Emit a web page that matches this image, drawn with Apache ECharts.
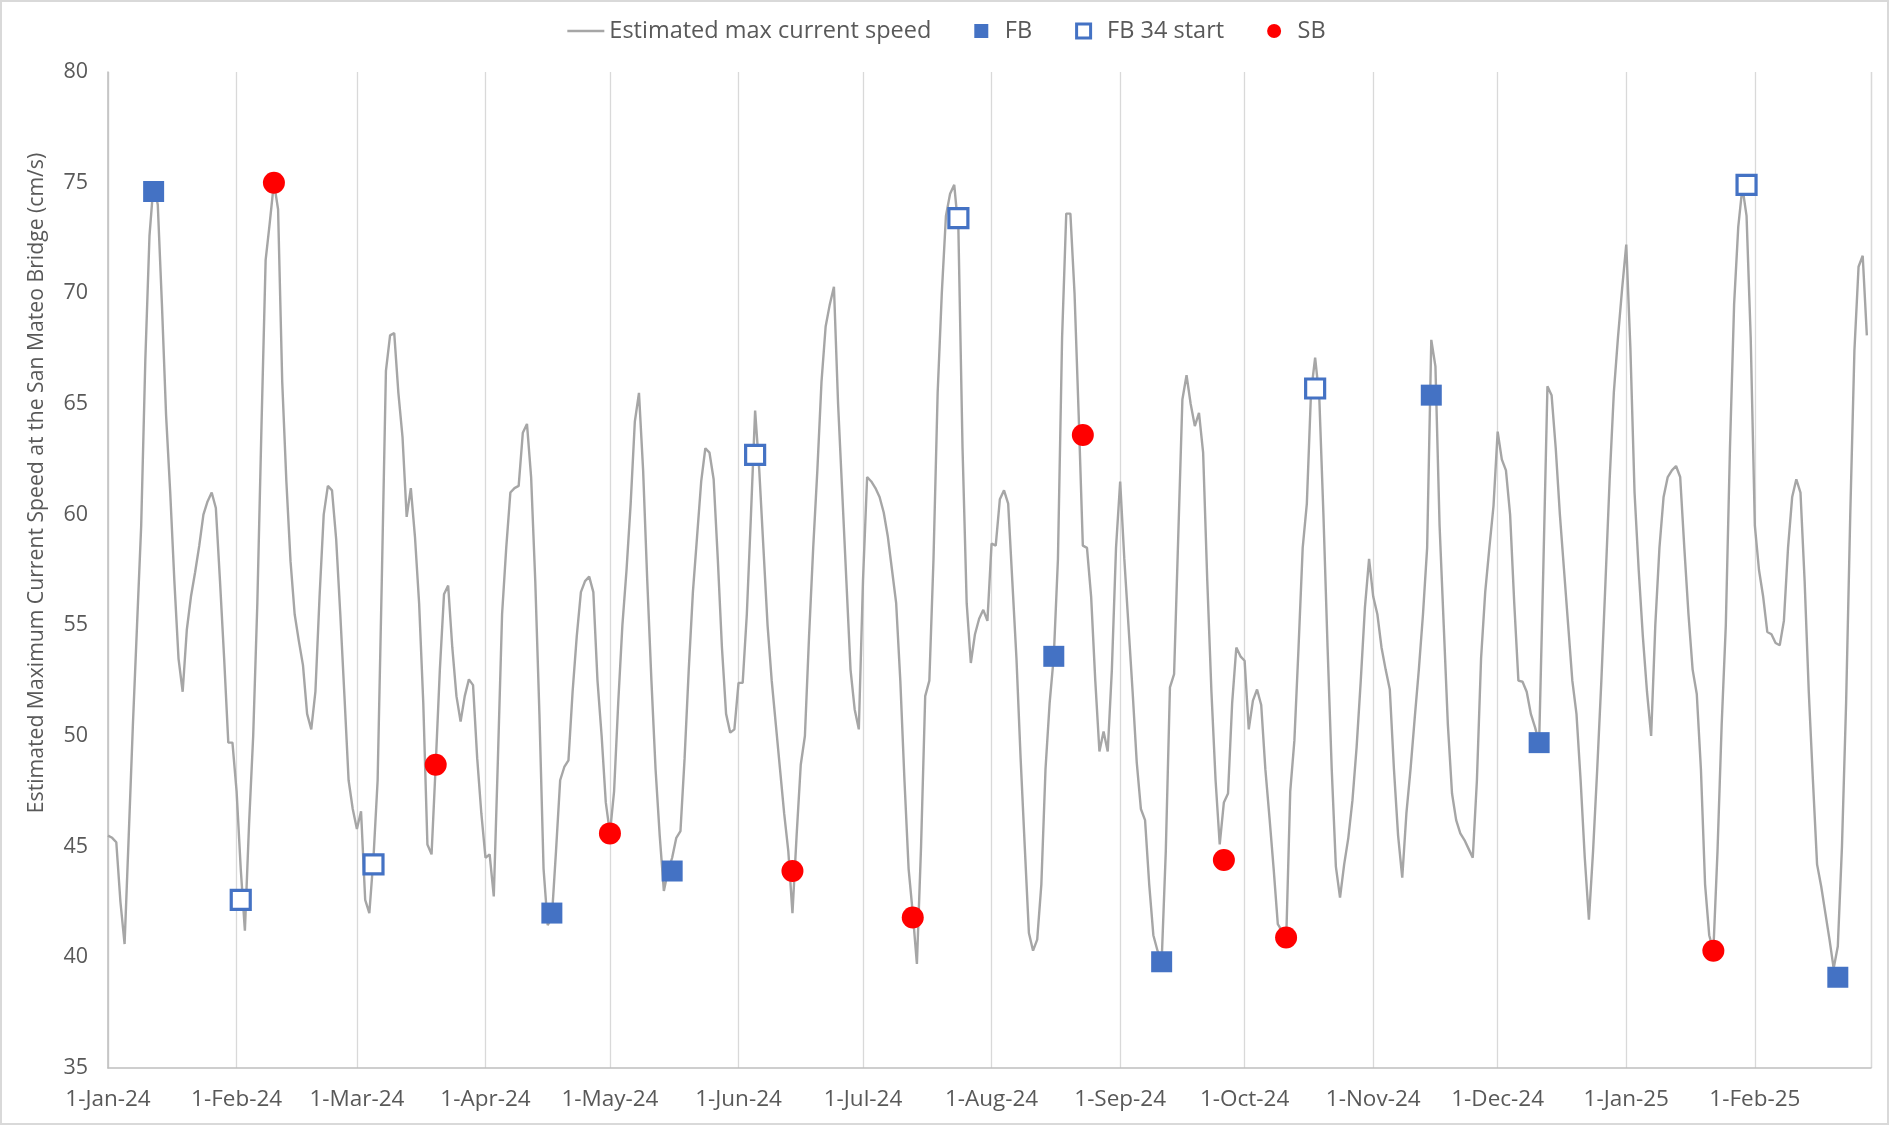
<!DOCTYPE html>
<html>
<head>
<meta charset="utf-8">
<script src="https://cdn.jsdelivr.net/npm/echarts@6/dist/echarts.min.js"></script>
<style>
html,body{margin:0;padding:0;background:#fff;}
#chart{width:1893px;height:1126px;}
</style>
</head>
<body>
<div id="chart"></div>
<script>
// ---- Data (daily estimated max current speed, cm/s) ----
var startDate = [2024, 0, 1];
var jan24 = [45.5,45.4,45.2,42.5,40.6,45.5,50.5,55.0,59.5,67.0,72.6,75.0,74.0,69.5,64.5,61.0,57.0,53.5,52.0,54.8,56.3,57.4,58.6,60.0,60.6,61.0,60.3,57.0,53.5,49.7,49.7];
var feb24 = [47.5,44.0,41.2,46.0,50.0,56.0,64.0,71.5,73.2,75.0,73.8,66.0,61.5,57.9,55.5,54.3,53.2,51.0,50.3,52.0,56.3,60.0,61.3,61.1,58.9,55.5,51.8,48.0,46.7];
var mar24 = [45.8,46.6,42.6,42.0,44.5,48.0,57.0,66.5,68.1,68.2,65.5,63.5,59.9,61.2,59.0,56.0,51.5,45.1,44.65,48.7,53.0,56.4,56.8,54.0,51.8,50.65,51.8,52.56,52.3,49.0,46.5];
var apr24 = [44.5,44.65,42.75,49.0,55.5,58.5,61.0,61.2,61.3,63.7,64.1,61.7,57.0,51.0,44.0,41.45,41.8,44.8,48.0,48.6,48.9,52.0,54.5,56.5,57.0,57.2,56.5,52.5,50.0,47.0];
var may24 = [45.6,47.5,51.5,55.0,57.5,60.5,64.2,65.5,62.0,57.0,52.5,48.5,45.5,43.0,43.9,44.5,45.4,45.7,49.0,53.0,56.5,59.0,61.5,63.0,62.8,61.6,58.0,54.0,51.0,50.15,50.3];
var jun24 = [52.4,52.4,55.5,60.0,64.7,62.0,58.5,55.0,52.5,50.5,48.5,46.5,44.8,42.0,45.5,48.7,50.0,54.5,58.5,62.0,66.0,68.5,69.5,70.3,65.0,61.0,57.0,53.0,51.2,50.3];
var jul24 = [57.0,61.7,61.5,61.2,60.8,60.1,59.0,57.5,56.0,52.5,48.0,44.0,42.0,39.7,45.0,51.8,52.5,58.0,65.5,70.0,73.5,74.5,74.9,72.9,63.0,56.0,53.3,54.6,55.3,55.7,55.2];
var aug24 = [58.7,58.6,60.7,61.1,60.5,57.0,53.5,49.0,45.0,41.1,40.3,40.8,43.3,48.5,51.5,53.6,58.0,68.0,73.6,73.6,70.0,64.5,58.6,58.5,56.3,52.5,49.3,50.2,49.3,53.0,58.5];
var sep24 = [61.5,58.0,55.0,52.0,48.8,46.7,46.2,43.3,41.0,40.3,39.8,44.8,52.2,52.8,59.0,65.2,66.3,65.0,64.0,64.6,62.8,57.0,52.0,48.0,45.1,47.0,47.4,51.5,54.0,53.6];
var oct24 = [53.4,50.3,51.6,52.1,51.4,48.5,46.3,44.0,41.5,41.2,40.6,47.5,49.8,54.0,58.5,60.5,65.5,67.1,65.3,60.0,54.0,48.5,44.1,42.7,44.2,45.4,47.1,49.5,52.5,55.8,58.0];
var nov24 = [56.3,55.5,54.0,53.0,52.1,48.5,45.5,43.6,46.5,48.5,50.8,53.0,55.5,58.5,67.9,66.7,59.5,55.0,50.5,47.4,46.2,45.6,45.3,44.9,44.5,48.0,53.5,56.5,58.5,60.4];
var dec24 = [63.75,62.5,62.0,60.0,56.0,52.5,52.45,52.0,51.0,50.4,49.7,57.5,65.8,65.4,63.0,60.0,57.5,55.0,52.5,51.0,48.0,44.5,41.7,44.8,48.5,52.5,57.0,61.6,65.5,68.0,70.2];
var jan25 = [72.2,67.5,61.0,57.5,54.5,52.0,50.0,55.0,58.5,60.8,61.7,62.0,62.2,61.7,58.5,55.5,53.0,51.9,48.5,43.3,41.0,40.3,44.8,50.5,55.0,63.0,69.5,73.0,74.8,73.5,68.0];
var feb25 = [59.5,57.5,56.3,54.7,54.6,54.2,54.1,55.2,58.5,60.8,61.6,61.0,57.0,52.0,48.0,44.2,43.2,42.0,40.8,39.5,40.5,45.0,51.5,60.0,67.4,71.2,71.7,68.1];

var fbPoints = [['2024-01-12',74.6],['2024-04-17',42.0],['2024-05-16',43.9],['2024-08-16',53.6],['2024-09-11',39.8],['2024-11-15',65.4],['2024-12-11',49.7],['2025-02-21',39.1]];
var fb34Points = [['2024-02-02',42.6],['2024-03-05',44.2],['2024-06-05',62.7],['2024-07-24',73.4],['2024-10-18',65.7],['2025-01-30',74.9]];
var sbPoints = [['2024-02-10',75.0],['2024-03-20',48.7],['2024-05-01',45.6],['2024-06-14',43.9],['2024-07-13',41.8],['2024-08-23',63.6],['2024-09-26',44.4],['2024-10-11',40.9],['2025-01-22',40.3]];

var axisStart = '2024-01-01', axisEnd = '2025-03-01', lastLabel = '2025-02-01';
var monthNames = ['Jan','Feb','Mar','Apr','May','Jun','Jul','Aug','Sep','Oct','Nov','Dec'];
var yTicks = {min: 35, max: 80, step: 5};

// ---- Build ----
function ts(s){ var p = s.split('-'); return new Date(+p[0], +p[1]-1, +p[2]).getTime(); }
var daily = [].concat(jan24,feb24,mar24,apr24,may24,jun24,jul24,aug24,sep24,oct24,nov24,dec24,jan25,feb25);
var lineData = daily.map(function(v,i){ return [new Date(startDate[0], startDate[1], startDate[2]+i).getTime(), v]; });
function toPts(arr){ return arr.map(function(p){ return [ts(p[0]), p[1]]; }); }

var FONT = '"Open Sans", "Noto Sans", sans-serif';
var TXT = '#595959';
var chart = echarts.init(document.getElementById('chart'), null, {renderer:'canvas'});
var option = {
  backgroundColor: '#ffffff',
  animation: false,
  textStyle: {fontFamily: FONT},
  legend: {
    top: 14, left: 'center',
    itemWidth: 37, itemHeight: 14, itemGap: 43,
    textStyle: {fontFamily: FONT, fontSize: 23.5, color: TXT},
    data: [
      {name: 'Estimated max current speed', icon: 'path://M0,0h37v2.4h-37z', itemStyle: {color: '#a6a6a6'}},
      {name: 'FB', icon: 'path://M0,0h10v10h-10z'},
      {name: 'FB 34 start', icon: 'path://M0,0h10v10h-10z', itemStyle: {color: '#ffffff', borderColor: '#4472C4', borderWidth: 3}},
      {name: 'SB', icon: 'circle'}
    ]
  },
  grid: {left: 108, right: 22, top: 72, bottom: 58, containLabel: false},
  xAxis: {
    type: 'time',
    min: ts(axisStart), max: ts(axisEnd),
    splitNumber: 14,
    minInterval: 27*864e5, maxInterval: 32*864e5,
    axisLine: {show: true, lineStyle: {color: '#bfbfbf', width: 1.5}},
    axisTick: {show: false},
    splitLine: {show: true, lineStyle: {color: '#d9d9d9', width: 1.3}},
    axisLabel: {
      margin: 20,
      fontFamily: FONT, fontSize: 22.5, color: TXT,
      hideOverlap: false,
      showMinLabel: true, showMaxLabel: true,
      formatter: function(val){
        if (val > ts(lastLabel)) return '';
        var d = new Date(val);
        return d.getDate() + '-' + monthNames[d.getMonth()] + '-' + String(d.getFullYear()).slice(2);
      }
    }
  },
  yAxis: {
    type: 'value', min: yTicks.min, max: yTicks.max, interval: yTicks.step,
    axisLine: {show: true, lineStyle: {color: '#bfbfbf', width: 1.5}},
    axisTick: {show: false},
    splitLine: {show: false},
    axisLabel: {margin: 20, fontFamily: FONT, fontSize: 21.5, color: TXT}
  },
  graphic: [
    {type: 'rect', silent: true, z: -1, shape: {x: 1, y: 1, width: 1887, height: 1123},
     style: {fill: null, stroke: '#d9d9d9', lineWidth: 2}},
    {type: 'text', silent: true, x: 37, y: 483, rotation: Math.PI/2,
     style: {text: 'Estimated Maximum Current Speed at the San Mateo Bridge (cm/s)', fontFamily: FONT, fontSize: 21.2, fill: TXT, align: 'center', verticalAlign: 'middle'}}
  ],
  series: [
    {name: 'Estimated max current speed', type: 'line', data: lineData, symbol: 'none', showSymbol: false, z: 2,
     lineStyle: {color: '#a6a6a6', width: 2.4}, itemStyle: {color: '#a6a6a6'}},
    {name: 'FB', type: 'scatter', data: toPts(fbPoints), symbol: 'rect', symbolSize: 21, z: 5,
     itemStyle: {color: '#4472C4', opacity: 1}},
    {name: 'FB 34 start', type: 'scatter', data: toPts(fb34Points), symbol: 'rect', symbolSize: 19, z: 5,
     itemStyle: {color: '#ffffff', borderColor: '#4472C4', borderWidth: 3.2, opacity: 1}},
    {name: 'SB', type: 'scatter', data: toPts(sbPoints), symbol: 'circle', symbolSize: 22, z: 5,
     itemStyle: {color: '#ff0000', opacity: 1}}
  ]
};
chart.setOption(option);
</script>
</body>
</html>
